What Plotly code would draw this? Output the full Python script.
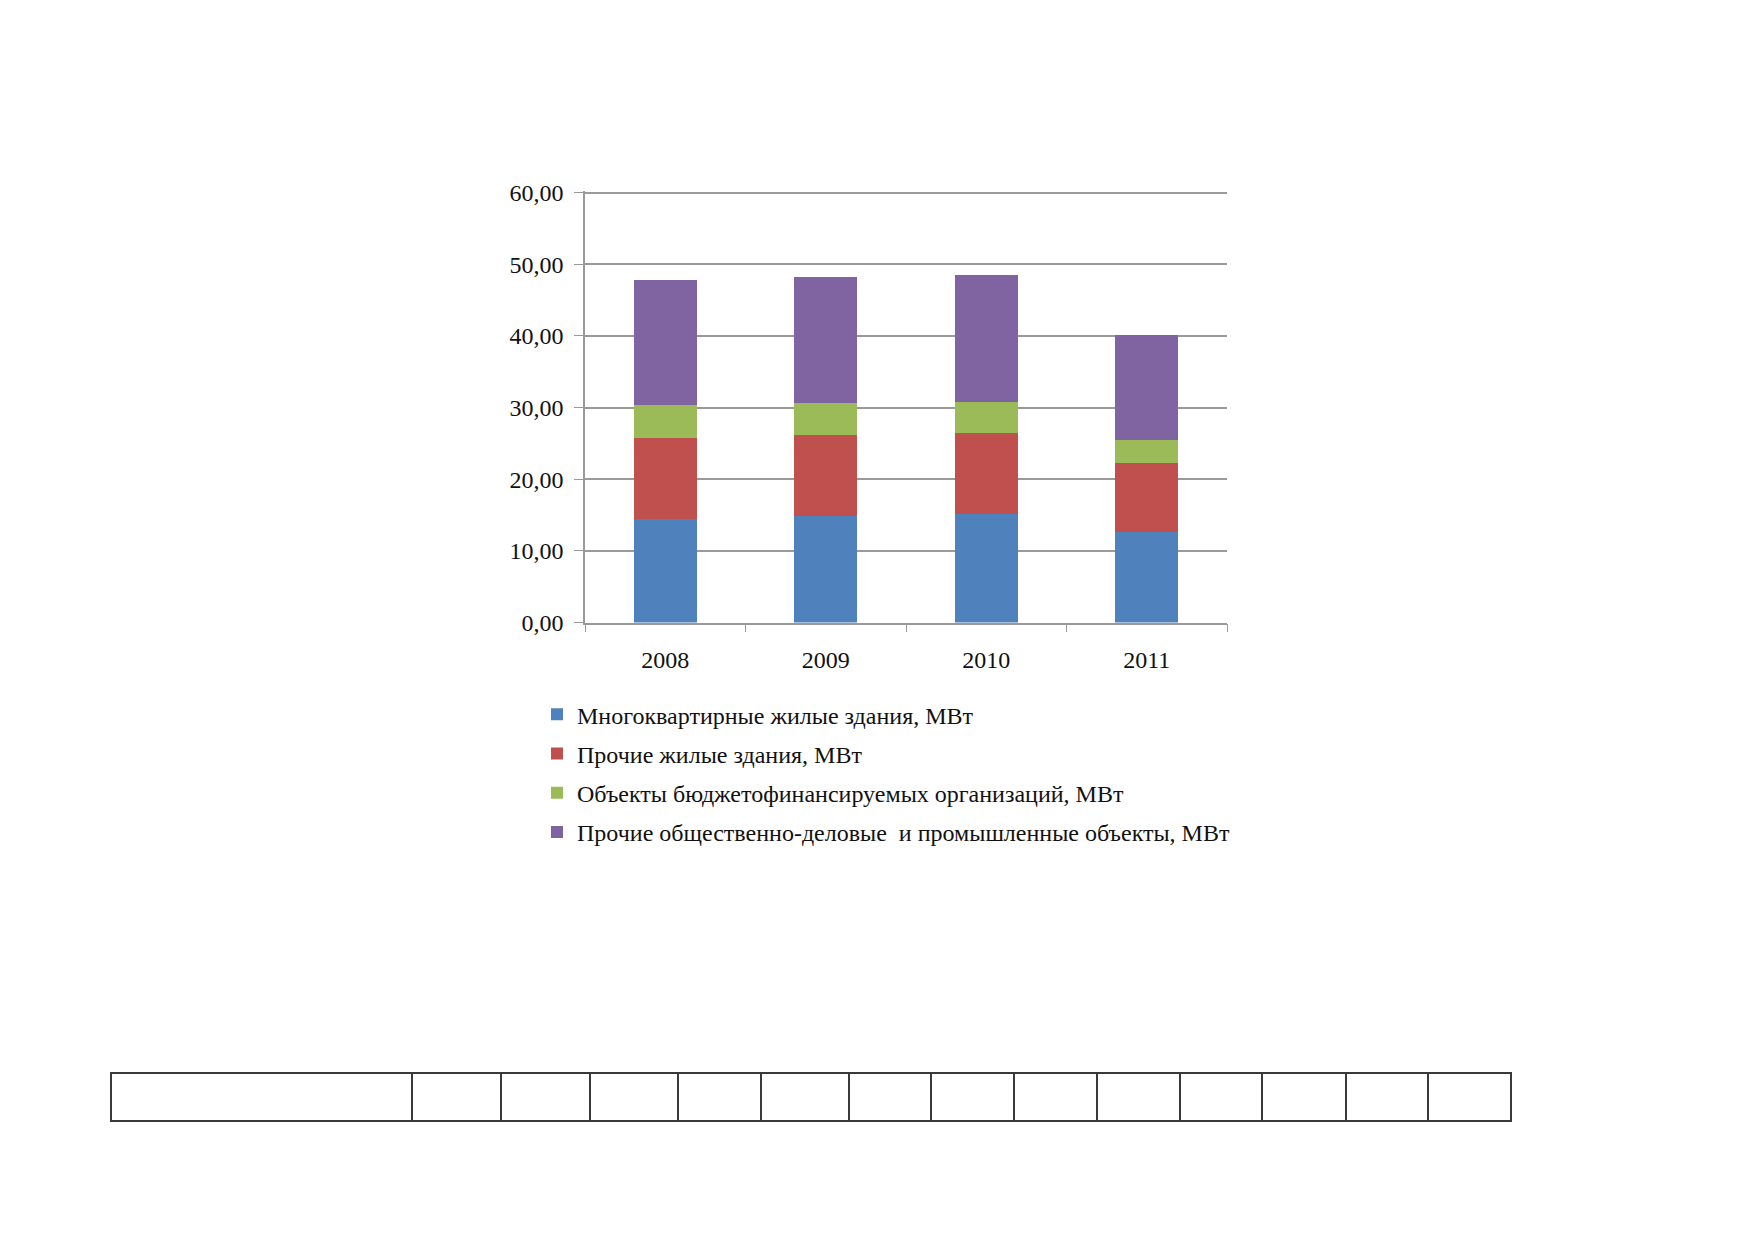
import plotly.graph_objs as go

# chart data
years = ["2008", "2009", "2010", "2011"]
apartments = [14.5, 14.9, 15.1, 12.65]
other_housing = [11.3, 11.3, 11.4, 9.65]
budget_objects = [4.5, 4.45, 4.3, 3.2]
other_objects = [17.5, 17.55, 17.75, 14.6]

series_names = [
    "Многоквартирные жилые здания, МВт",
    "Прочие жилые здания, МВт",
    "Объекты бюджетофинансируемых организаций, МВт",
    "Прочие общественно-деловые  и промышленные объекты, МВт",
]
series_colors = ["#4F81BD", "#C0504D", "#9BBB59", "#8064A2"]

y_ticks = [0, 10, 20, 30, 40, 50, 60]

# empty table under the chart (column widths, px)
table_widths = [301, 89, 89, 88, 83, 88, 82, 83, 83, 83, 82, 84, 82, 83]

W, H = 1752, 1239
font_name = "Liberation Serif, Times New Roman, serif"
y_top = 60.3  # a bit above 60 so the top gridline gets drawn

fig = go.Figure()
for name, vals, col in zip(series_names,
                           [apartments, other_housing, budget_objects, other_objects],
                           series_colors):
    fig.add_trace(go.Bar(
        name=name,
        x=years,
        y=vals,
        marker=dict(color=col, line=dict(width=0)),
        legendgroup=name,
    ))

fig.add_trace(go.Table(
    domain=dict(x=[103 / W, 1503 / W], y=[0.0, 1 - 1075 / H]),
    columnwidth=table_widths,
    header=dict(
        values=[""] * len(table_widths),
        height=48,
        fill=dict(color="white"),
        line=dict(color="#3a3a3a", width=1.5),
    ),
    cells=dict(values=[[] for _ in table_widths]),
))

# plot box (px from top-left)
px_left, px_right = 577, 1219
px_zero, px_sixty = 616, 178
px_top = px_zero - (px_zero - px_sixty) * y_top / 60

fig.update_layout(
    width=W,
    height=H,
    barmode="stack",
    bargap=0.61,
    margin=dict(l=0, r=0, t=0, b=0),
    paper_bgcolor="white",
    plot_bgcolor="white",
    separators=", ",
    font=dict(family=font_name, size=24, color="#111111"),
    showlegend=True,
    legend=dict(
        x=529 / W,
        y=1 - 687 / H,
        xanchor="left",
        yanchor="top",
        traceorder="grouped",
        tracegroupgap=5,
        font=dict(family=font_name, size=24, color="#111111"),
        bgcolor="rgba(0,0,0,0)",
    ),
    xaxis=dict(
        domain=[px_left / W, px_right / W],
        type="category",
        showline=True,
        linecolor="#9a9a9a",
        linewidth=1.5,
        ticks="outside",
        tickson="boundaries",
        ticklen=8,
        tickcolor="#9a9a9a",
        showgrid=False,
        ticklabelstandoff=15,
        tickfont=dict(family=font_name, size=24),
    ),
    yaxis=dict(
        domain=[1 - px_zero / H, 1 - px_top / H],
        range=[0, y_top],
        tickvals=y_ticks,
        tickformat=".2f",
        showline=True,
        linecolor="#9a9a9a",
        linewidth=1.5,
        ticks="outside",
        ticklen=9,
        tickcolor="#9a9a9a",
        showgrid=True,
        gridcolor="#9a9a9a",
        gridwidth=1.5,
        zeroline=False,
        ticklabelstandoff=6,
        tickfont=dict(family=font_name, size=24),
    ),
)

fig.write_html("out.html")
